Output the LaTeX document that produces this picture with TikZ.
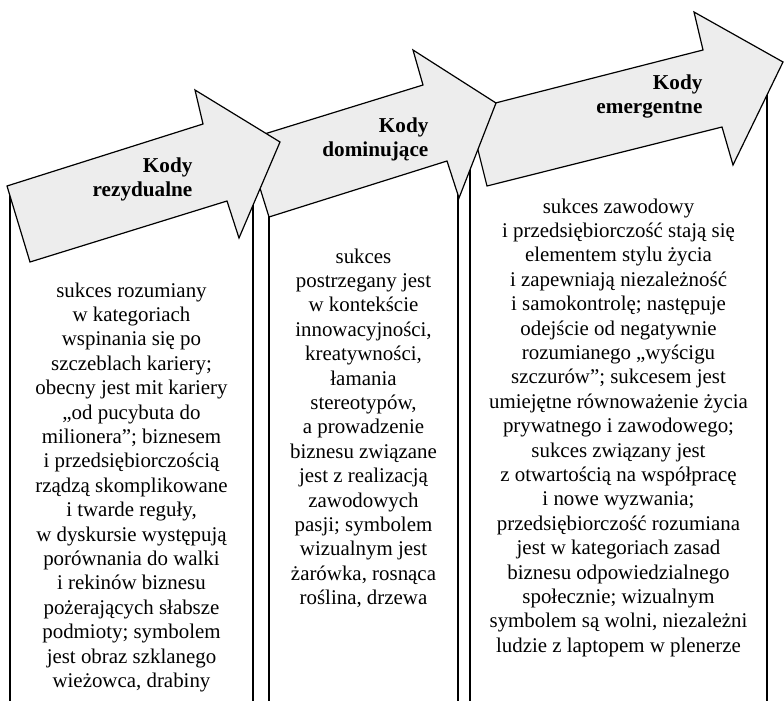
\documentclass[tikz,border=0pt]{standalone}
\usepackage{fontspec}
\setmainfont{Liberation Serif}
\definecolor{arrowgray}{RGB}{237,237,237}

\begin{document}
\begin{tikzpicture}[x=1pt,y=-1pt,line width=1.2pt,
    codearrow/.style={draw,fill=arrowgray,line join=miter}]

        \useasboundingbox (0,0) rectangle (784,701);

        \draw (10,192)  -- (10,701);
        \draw (253,150) -- (253,701);
        \draw (269,200) -- (269,701);
        \draw (458,170) -- (458,701);
        \draw (470,150) -- (470,701);
        \draw (767,80)  -- (767,701);

        \draw[codearrow] (468,110) -- (703,50) -- (694,12) -- (783,62)
          -- (733,165) -- (722,127) -- (487,186) -- cycle;
        \draw[codearrow] (245,140) -- (423,85) -- (413,50) -- (496,103)
          -- (459,198) -- (447,161) -- (269,217) -- cycle;
        \draw[codearrow] (7,186) -- (203,124) -- (195,90) -- (280,142)
          -- (239,238) -- (227,201) -- (30,262) -- cycle;

        \begin{scope}[every node/.style={inner sep=0pt,
            font=\fontsize{20.9}{24.4}\selectfont}]

          \begin{scope}[every node/.append style={align=right,anchor=north east,font=\fontsize{21.2}{24.4}\selectfont\bfseries}]
            \node (4) at (193,157) {Kody\\rezydualne};
            \node (5) at (429,117) {Kody\\dominujące};
            \node (6) at (703,74)  {Kody\\emergentne};
          \end{scope}

          \begin{scope}[every node/.append style={align=center,anchor=north}]
            \node (1) at (131.5,282) {sukces rozumiany\\w kategoriach\\wspinania się po\\szczeblach kariery;\\obecny jest mit kariery\\„od pucybuta do\\milionera”; biznesem\\i przedsiębiorczością\\rządzą skomplikowane\\i twarde reguły,\\w dyskursie występują\\porównania do walki\\i rekinów biznesu\\pożerających słabsze\\podmioty; symbolem\\jest obraz szklanego\\wieżowca, drabiny};
            \node (2) at (363.5,248) {sukces\\postrzegany jest\\w kontekście\\innowacyjności,\\kreatywności,\\łamania\\stereotypów,\\a prowadzenie\\biznesu związane\\jest z realizacją\\zawodowych\\pasji; symbolem\\wizualnym jest\\żarówka, rosnąca\\roślina, drzewa};
            \node (3) at (618.5,198) {sukces zawodowy\\i przedsiębiorczość stają się\\elementem stylu życia\\i zapewniają niezależność\\i samokontrolę; następuje\\odejście od negatywnie\\rozumianego „wyścigu\\szczurów”; sukcesem jest\\umiejętne równoważenie życia\\prywatnego i zawodowego;\\sukces związany jest\\z otwartością na współpracę\\i nowe wyzwania;\\przedsiębiorczość rozumiana\\jest w kategoriach zasad\\biznesu odpowiedzialnego\\społecznie; wizualnym\\symbolem są wolni, niezależni\\ludzie z laptopem w plenerze};
          \end{scope}
        \end{scope}

      \end{tikzpicture}
\end{document}
